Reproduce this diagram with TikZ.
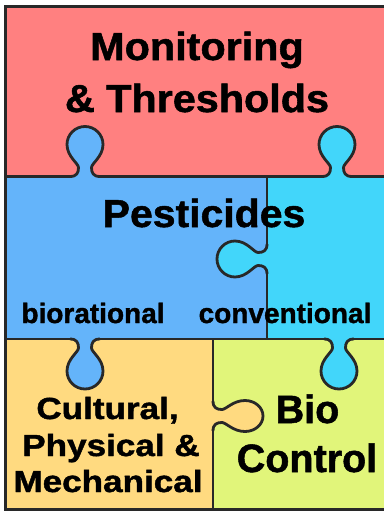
\documentclass[tikz,border=0pt]{standalone}
\usepackage{fontspec}
\setmainfont{Liberation Sans}[BoldFeatures={FakeBold=1.3}]
\usepackage{graphicx}
\definecolor{pinkc}{RGB}{255,128,128}
\definecolor{bluec}{RGB}{100,180,250}
\definecolor{cyanc}{RGB}{66,214,250}
\definecolor{yellowc}{RGB}{255,218,128}
\definecolor{greenc}{RGB}{225,245,122}
\definecolor{linec}{RGB}{40,40,40}
\tikzset{
  edge/.style={draw=linec, line width=2.8pt, line join=round},
  frame/.style={draw=linec, line width=3pt, line join=miter},
  lbl/.style={inner sep=0pt, anchor=base, text=black, font=\bfseries},
  pics/tab/.style n args={2}{code={
    \fill[#1] (-15,1.5) -- (-15,0) .. controls (-8,0) and (-6.5,-4) .. (-6.5,-9)
      .. controls (-6.5,-13) and (-#2,-20) .. (-#2,-32)
      .. controls (-#2,-41.94) and ({-0.5523*#2},-50) .. (0,-50)
      .. controls ({0.5523*#2},-50) and (#2,-41.94) .. (#2,-32)
      .. controls (#2,-20) and (6.5,-13) .. (6.5,-9)
      .. controls (6.5,-4) and (8,0) .. (15,0) -- (15,1.5) -- cycle;
    \draw[edge] (-15,0) .. controls (-8,0) and (-6.5,-4) .. (-6.5,-9)
      .. controls (-6.5,-13) and (-#2,-20) .. (-#2,-32)
      .. controls (-#2,-41.94) and ({-0.5523*#2},-50) .. (0,-50)
      .. controls ({0.5523*#2},-50) and (#2,-41.94) .. (#2,-32)
      .. controls (#2,-20) and (6.5,-13) .. (6.5,-9)
      .. controls (6.5,-4) and (8,0) .. (15,0);
  }}
}
\begin{document}
\begin{tikzpicture}[x=1pt,y=-1pt]
\useasboundingbox (0,0) rectangle (384,512);
% regions
\fill[pinkc] (5,6.5) rectangle (384,176.5);
\fill[bluec] (5,176.5) rectangle (267,339);
\fill[cyanc] (267,176.5) rectangle (384,339);
\fill[yellowc] (5,339) rectangle (213,509);
\fill[greenc] (213,339) rectangle (384,509);
% tabs
\pic at (85,176.5) {tab={bluec}{18}};
\pic at (337,176.5) {tab={cyanc}{18}};
\pic[rotate=90] at (267,259) {tab={cyanc}{18}};
\pic[rotate=180] at (85,339) {tab={bluec}{18}};
\pic[rotate=180] at (339,339) {tab={cyanc}{18}};
\pic[rotate=-90] at (213,416) {tab={yellowc}{15.5}};
% straight boundaries
\draw[edge] (5,176.5) -- (70,176.5) (100,176.5) -- (322,176.5) (352,176.5) -- (384,176.5);
\draw[edge] (5,339) -- (70,339) (100,339) -- (324,339) (354,339) -- (384,339);
\draw[edge] (267,176.5) -- (267,244) (267,274) -- (267,339);
\draw[edge] (213,339) -- (213,401) (213,431) -- (213,509);
% outer frame
\draw[frame] (384,6.5) -- (5,6.5) -- (5,509) -- (384,509);
% texts
\node[lbl, font=\bfseries\fontsize{39}{39}\selectfont] (mon) at (197,60) {\scalebox{1.06}[1]{Monitoring}};
\node[lbl, font=\bfseries\fontsize{39}{39}\selectfont] (thr) at (197,112) {\scalebox{1.06}[1]{\& Thresholds}};
\node[lbl, font=\bfseries\fontsize{39}{39}\selectfont] (pest) at (204,227) {\scalebox{1.05}[1]{Pesticides}};
\node[lbl, font=\bfseries\fontsize{28}{28}\selectfont] (bior) at (93,323) {biorational};
\node[lbl, font=\bfseries\fontsize{28}{28}\selectfont] (conv) at (285,323) {conventional};
\node[lbl, font=\bfseries\fontsize{30.5}{30.5}\selectfont] (cult) at (107.5,419) {\scalebox{1.15}[1]{Cultural,}};
\node[lbl, font=\bfseries\fontsize{30.5}{30.5}\selectfont] (phys) at (111,456) {\scalebox{1.15}[1]{Physical \&}};
\node[lbl, font=\bfseries\fontsize{30.5}{30.5}\selectfont] (mech) at (108,492) {\scalebox{1.15}[1]{Mechanical}};
\node[lbl, font=\bfseries\fontsize{39.5}{39.5}\selectfont] (bio) at (307.5,423) {Bio};
\node[lbl, font=\bfseries\fontsize{39.5}{39.5}\selectfont] (ctrl) at (307,472) {Control};
\end{tikzpicture}
\end{document}
